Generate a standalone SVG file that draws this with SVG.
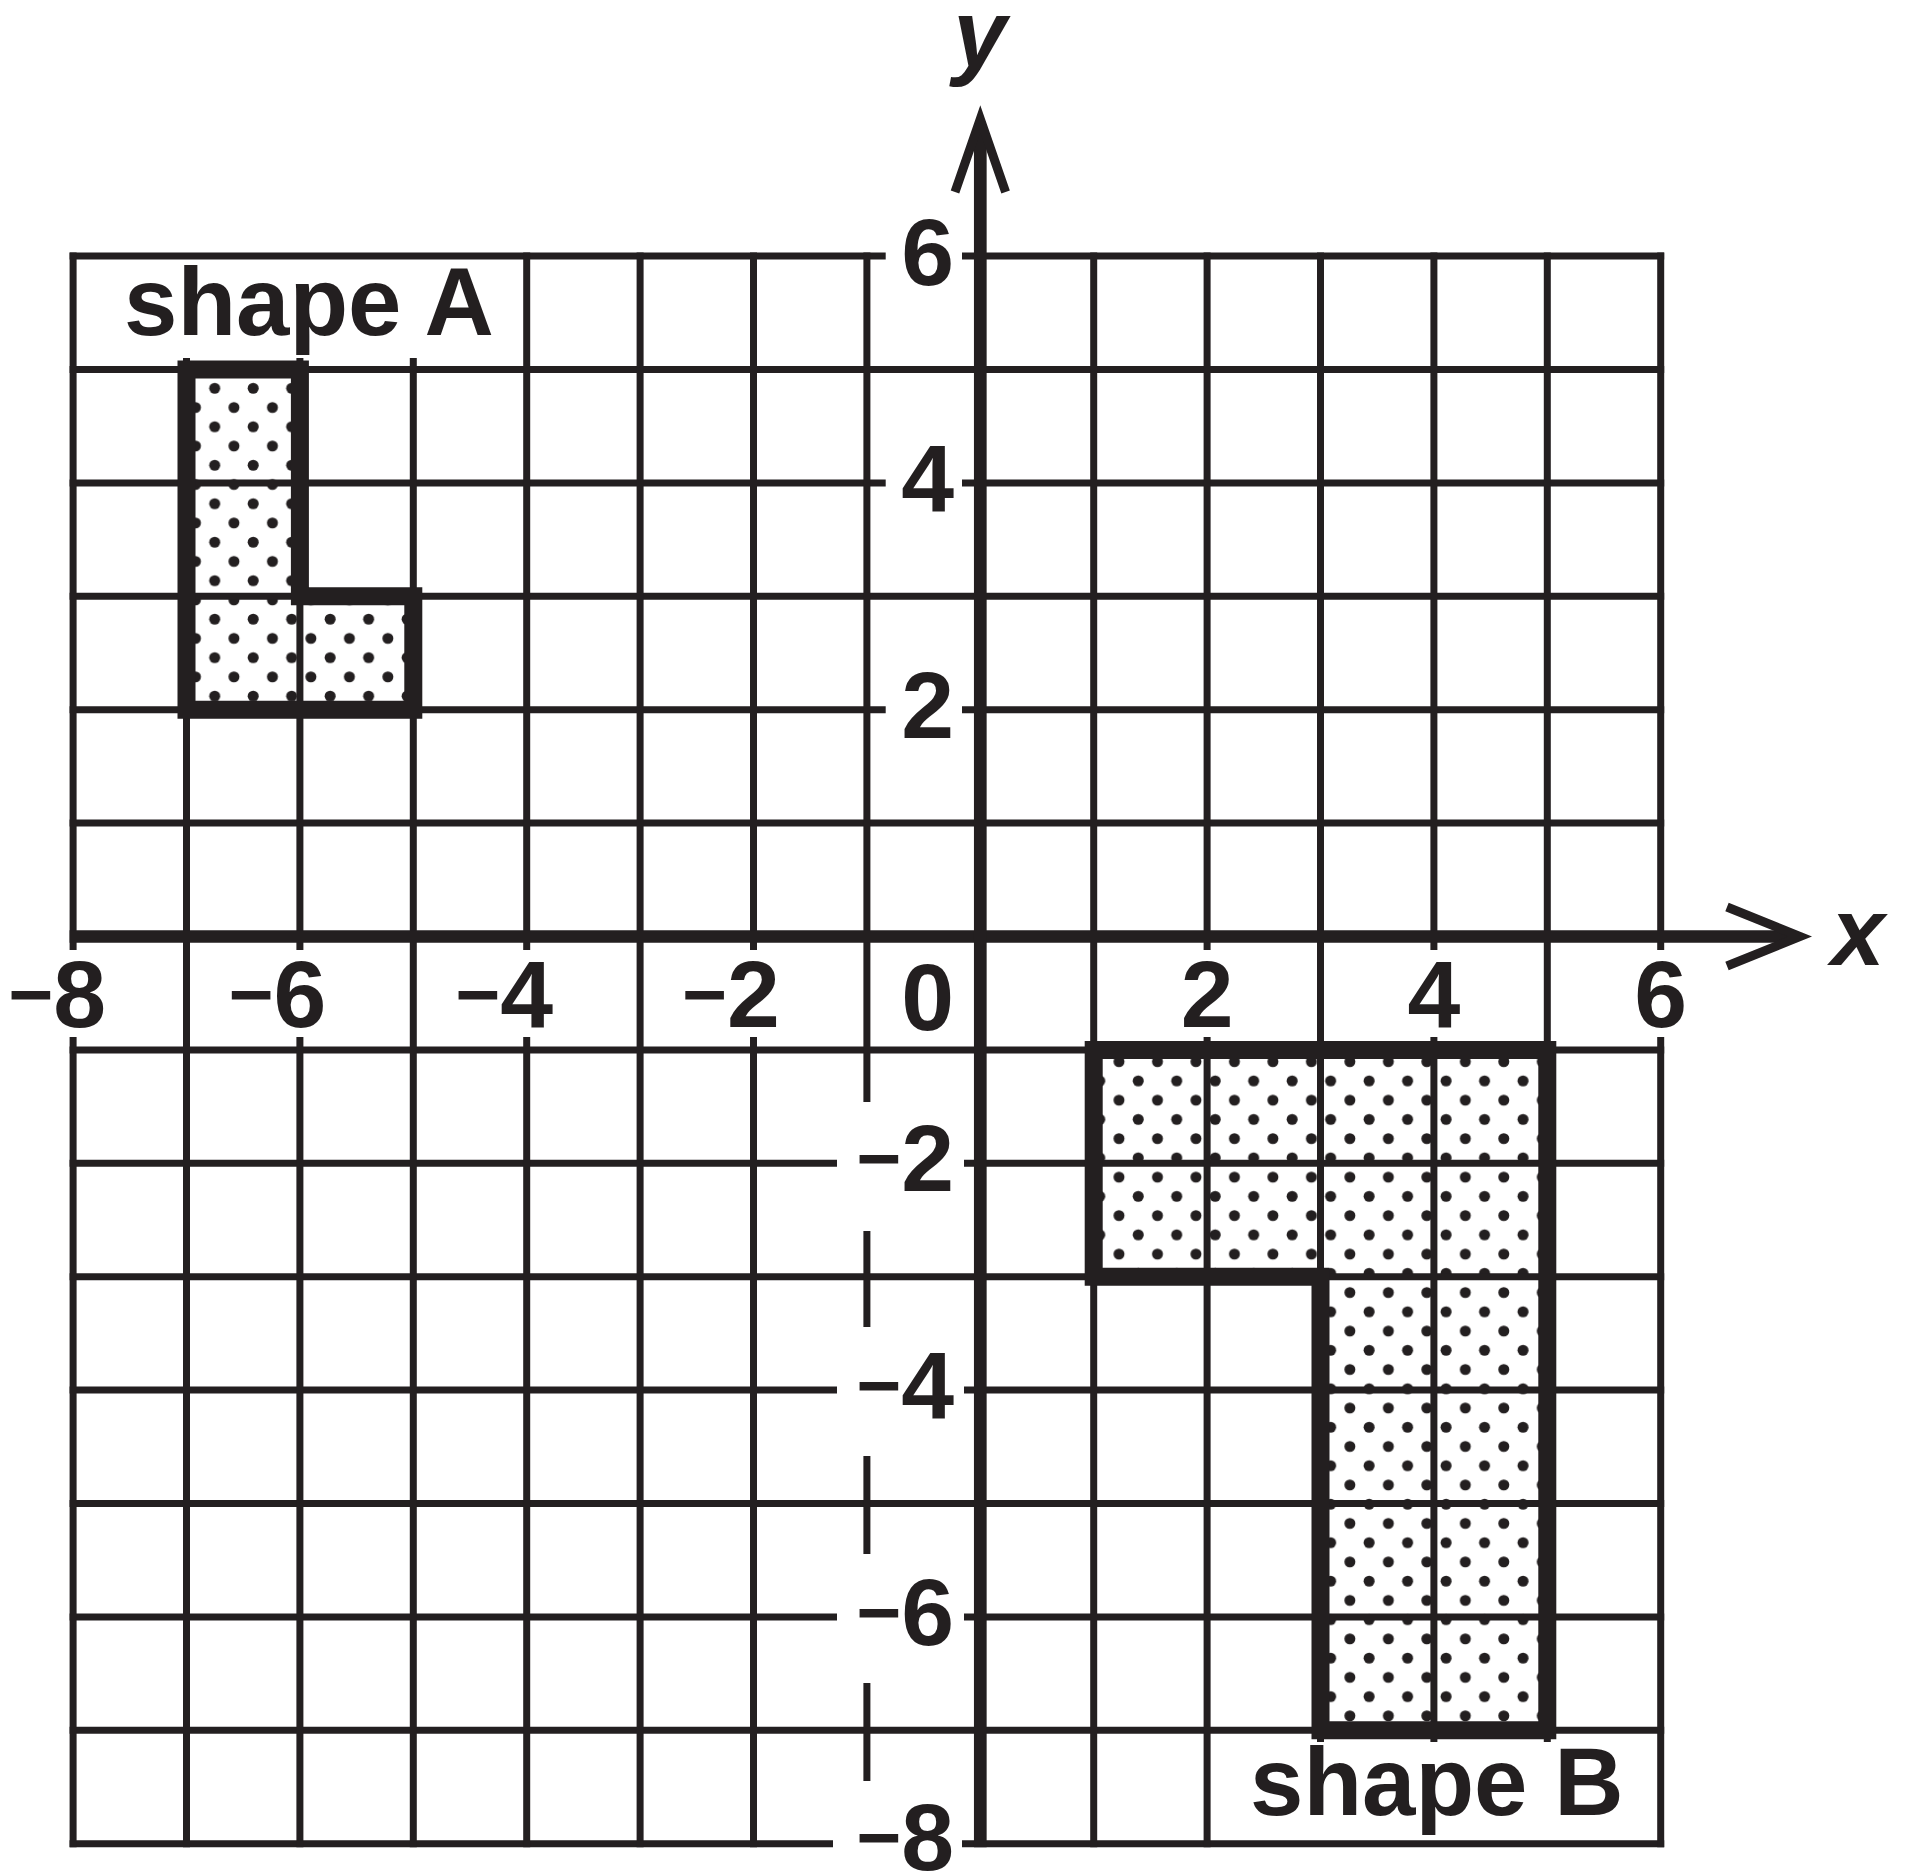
<svg xmlns="http://www.w3.org/2000/svg" width="1914" height="1875" viewBox="0 0 1914 1875">
<style>
.g{stroke:#231f20;stroke-width:7;fill:none;stroke-linecap:butt}
.ax{stroke:#231f20;stroke-width:12.7;fill:none}
.ah{stroke:#231f20;stroke-width:9;fill:none;stroke-linejoin:miter;stroke-miterlimit:6}
.sh{stroke:#231f20;stroke-width:18;stroke-linejoin:miter;fill:none}
.n{font-family:"Liberation Sans",Arial,sans-serif;font-weight:bold;font-size:95px;fill:#231f20}
.m{font-size:77px}
.v{font-family:"Liberation Sans",Arial,sans-serif;font-weight:bold;font-style:italic;font-size:96px;fill:#231f20}
</style>
<defs>
<pattern id="dots" patternUnits="userSpaceOnUse" x="1109.38" y="1052.08" width="38.48" height="38.48">
<rect width="38.48" height="38.48" fill="#fff"/>
<circle cx="9.62" cy="9.62" r="5.5" fill="#231f20"/>
<circle cx="28.86" cy="28.86" r="5.5" fill="#231f20"/>
</pattern>
</defs>
<rect width="1914" height="1875" fill="#fff"/>
<g id="shapeA-fill"><path d="M186.5 369.5H299.9V596.3H413.3V709.7H186.5Z" fill="url(#dots)"/></g>
<g id="shapeB-fill"><path d="M1093.7 1049.9H1547.3V1730.3H1320.5V1276.7H1093.7Z" fill="url(#dots)"/></g>
<g id="grid" class="g">
<path d="M69.6 256.1H885.7M962 256.1H1664.2"/>
<path d="M69.6 369.5H1664.2"/>
<path d="M69.6 482.9H885.7M962 482.9H1664.2"/>
<path d="M69.6 596.3H1664.2"/>
<path d="M69.6 709.7H885.7M962 709.7H1664.2"/>
<path d="M69.6 823.1H1664.2"/>
<path d="M69.6 1049.9H1664.2"/>
<path d="M69.6 1163.3H837M964 1163.3H1664.2"/>
<path d="M69.6 1276.7H1664.2"/>
<path d="M69.6 1390.1H837M964 1390.1H1664.2"/>
<path d="M69.6 1503.5H1664.2"/>
<path d="M69.6 1616.9H837M964 1616.9H1664.2"/>
<path d="M69.6 1730.3H1664.2"/>
<path d="M69.6 1843.7H833M962 1843.7H1664.2"/>
<path d="M73.1 252.6V950M73.1 1037V1847.2"/>
<path d="M186.5 358V1847.2"/>
<path d="M299.9 358V950M299.9 1037V1847.2"/>
<path d="M413.3 358V1847.2"/>
<path d="M526.7 252.6V950M526.7 1037V1847.2"/>
<path d="M640.1 252.6V1847.2"/>
<path d="M753.5 252.6V950M753.5 1037V1847.2"/>
<path d="M866.9 252.6V1102M866.9 1231V1327M866.9 1456V1554M866.9 1683V1781"/>
<path d="M1093.7 252.6V1847.2"/>
<path d="M1207.1 252.6V950M1207.1 1037V1847.2"/>
<path d="M1320.5 252.6V1742"/>
<path d="M1433.9 252.6V950M1433.9 1037V1742"/>
<path d="M1547.3 252.6V1742"/>
<path d="M1660.7 252.6V950M1660.7 1037V1847.2"/>
</g>
<g id="axes">
<path class="ax" d="M69.6 936.5H1790"/>
<path class="ah" d="M1727 907L1800 936.5L1727 966"/>
<path class="ax" d="M980.3 1847.2V129"/>
<path class="ah" d="M955 192L980.3 119L1005.6 192"/>
<text class="v" x="980" y="67" text-anchor="middle">y</text>
<text class="v" x="1858" y="965" text-anchor="middle">x</text>
</g>
<g id="shapeA"><path class="sh" d="M186.5 369.5H299.9V596.3H413.3V709.7H186.5Z"/></g>
<g id="shapeB"><path class="sh" d="M1093.7 1049.9H1547.3V1730.3H1320.5V1276.7H1093.7Z"/></g>
<g id="labels">
<text class="n" x="124" y="335" style="font-size:96px">shape A</text>
<text class="n" x="1250" y="1815" style="font-size:96px">shape B</text>
<text class="n" x="954" y="285" text-anchor="end">6</text>
<text class="n" x="954" y="511" text-anchor="end">4</text>
<text class="n" x="954" y="738" text-anchor="end">2</text>
<text class="n" x="954" y="1191" text-anchor="end"><tspan class="m" dy="-6">−</tspan><tspan dy="6">2</tspan></text>
<text class="n" x="954" y="1418" text-anchor="end"><tspan class="m" dy="-6">−</tspan><tspan dy="6">4</tspan></text>
<text class="n" x="954" y="1645" text-anchor="end"><tspan class="m" dy="-6">−</tspan><tspan dy="6">6</tspan></text>
<text class="n" x="954" y="1870" text-anchor="end"><tspan class="m" dy="-6">−</tspan><tspan dy="6">8</tspan></text>
<text class="n" x="106" y="1027" text-anchor="end"><tspan class="m" dy="-6">−</tspan><tspan dy="6">8</tspan></text>
<text class="n" x="326.3" y="1027" text-anchor="end"><tspan class="m" dy="-6">−</tspan><tspan dy="6">6</tspan></text>
<text class="n" x="553.1" y="1027" text-anchor="end"><tspan class="m" dy="-6">−</tspan><tspan dy="6">4</tspan></text>
<text class="n" x="779.9" y="1027" text-anchor="end"><tspan class="m" dy="-6">−</tspan><tspan dy="6">2</tspan></text>
<text class="n" x="954" y="1030" text-anchor="end">0</text>
<text class="n" x="1207.1" y="1027" text-anchor="middle">2</text>
<text class="n" x="1433.9" y="1027" text-anchor="middle">4</text>
<text class="n" x="1660.7" y="1027" text-anchor="middle">6</text>
</g>
</svg>
